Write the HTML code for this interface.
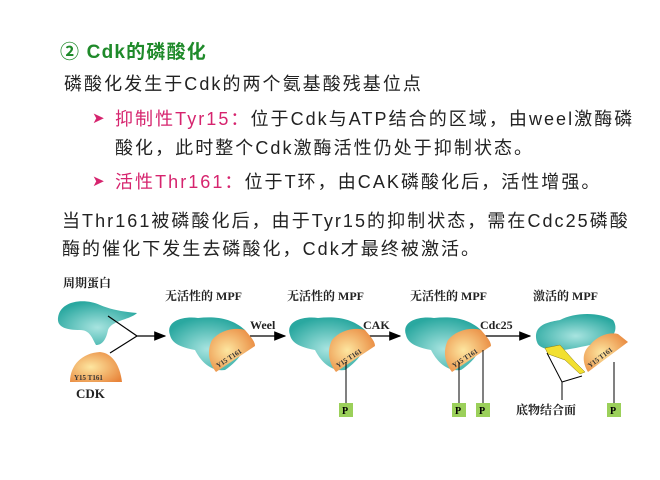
<!DOCTYPE html>
<html><head><meta charset="utf-8"><style>
body{margin:0;width:660px;height:480px;background:#fff;position:relative;overflow:hidden;font-family:"Liberation Sans","Noto Sans CJK SC",sans-serif;}
.t{position:absolute;white-space:nowrap;font-size:18px;color:#222;letter-spacing:2.05px;}
.g{color:#1f8a2a;font-weight:bold;}
.m{color:#d6246e;}
.ar{color:#d6246e;font-size:15px;}
svg{position:absolute;left:0;top:0}
</style></head><body>
<div class="t g" style="left:60px;top:37px;font-size:19px;letter-spacing:1.2px">② Cdk的磷酸化</div>
<div class="t" style="left:64px;top:70px;">磷酸化发生于Cdk的两个氨基酸残基位点</div>
<div class="t ar" style="left:92px;top:109px;">➤</div>
<div class="t" style="left:115px;top:105px;"><span class="m">抑制性Tyr15：</span>位于Cdk与ATP结合的区域，由weel激酶磷</div>
<div class="t" style="left:115px;top:134px;">酸化，此时整个Cdk激酶活性仍处于抑制状态。</div>
<div class="t ar" style="left:92px;top:172px;">➤</div>
<div class="t" style="left:115px;top:168px;"><span class="m">活性Thr161：</span>位于T环，由CAK磷酸化后，活性增强。</div>
<div class="t" style="left:62px;top:207px;">当Thr161被磷酸化后，由于Tyr15的抑制状态，需在Cdc25磷酸</div>
<div class="t" style="left:62px;top:235px;">酶的催化下发生去磷酸化，Cdk才最终被激活。</div>
<svg width="660" height="480" viewBox="0 0 660 480" font-family="'Liberation Serif','Noto Serif CJK SC',serif" font-weight="bold">
<defs>
<radialGradient id="tl" cx="0.5" cy="0.6" r="0.6"><stop offset="0" stop-color="#a8e4e0"/><stop offset="1" stop-color="#2aa8a0"/></radialGradient>
<radialGradient id="or" cx="0.4" cy="0.5" r="0.7"><stop offset="0" stop-color="#fde6a0"/><stop offset="1" stop-color="#e8843a"/></radialGradient>
<marker id="a" markerWidth="10" markerHeight="8" refX="9" refY="4" orient="auto"><path d="M0,0 L10,4 L0,8 Z" fill="#000"/></marker>
</defs>
<g font-size="12" fill="#222">
<text x="63" y="287">周期蛋白</text>
<text x="165" y="300">无活性的 MPF</text>
<text x="287" y="300">无活性的 MPF</text>
<text x="410" y="300">无活性的 MPF</text>
<text x="533" y="300">激活的 MPF</text>
<text x="76" y="398" font-size="13">CDK</text>
<text x="250" y="329" font-size="12">Weel</text>
<text x="363" y="329" font-size="12">CAK</text>
<text x="480" y="329" font-size="12">Cdc25</text>
<text x="516" y="414">底物结合面</text>
</g>
<path d="M58,318 C60,300 85,298 100,305 C112,310 125,312 137,313 C130,320 112,320 108,330 C106,340 102,345 96,345 C92,338 90,330 80,330 C66,330 57,327 58,318 Z" fill="url(#tl)"/>
<path d="M70,382 C70,365 82,353 100,352 C112,353 120,365 122,382 Z" fill="url(#or)"/>
<text x="74" y="380" font-size="7" fill="#333">Y15 T161</text>
<path d="M108,316 L137,336 L110,353 M137,336 L165,336" stroke="#000" stroke-width="1.2" fill="none" marker-end="url(#a)"/>
<path d="M250,336 L285,336" stroke="#000" stroke-width="1.2" marker-end="url(#a)"/>
<path d="M360,336 L400,336" stroke="#000" stroke-width="1.2" marker-end="url(#a)"/>
<path d="M480,336 L530,336" stroke="#000" stroke-width="1.2" marker-end="url(#a)"/>
<g>
<path d="M170,335 C165,320 185,316 198,318 C215,316 232,318 245,330 C250,345 240,360 225,370 C210,372 200,360 195,350 C185,348 172,345 170,335 Z" fill="url(#tl)"/>
<path d="M212,340 C220,330 235,327 245,330 C252,338 255,342 255,346 L216,372 C208,362 207,350 212,340 Z" fill="url(#or)"/>
<text x="218" y="368" font-size="7" fill="#333" transform="rotate(-33 218 368)">Y15 T161</text>
</g>
<g transform="translate(120,0)">
<path d="M170,335 C165,320 185,316 198,318 C215,316 232,318 245,330 C250,345 240,360 225,370 C210,372 200,360 195,350 C185,348 172,345 170,335 Z" fill="url(#tl)"/>
<path d="M212,340 C220,330 235,327 245,330 C252,338 255,342 255,346 L216,372 C208,362 207,350 212,340 Z" fill="url(#or)"/>
<text x="218" y="368" font-size="7" fill="#333" transform="rotate(-33 218 368)">Y15 T161</text>
</g>
<line x1="346" y1="362" x2="346" y2="404" stroke="#000"/>
<rect x="339" y="403" width="14" height="14" fill="#9bd05a"/><text x="342" y="414" font-size="10">P</text>
<g transform="translate(236,0)">
<path d="M170,335 C165,320 185,316 198,318 C215,316 232,318 245,330 C250,345 240,360 225,370 C210,372 200,360 195,350 C185,348 172,345 170,335 Z" fill="url(#tl)"/>
<path d="M212,340 C220,330 235,327 245,330 C252,338 255,342 255,346 L216,372 C208,362 207,350 212,340 Z" fill="url(#or)"/>
<text x="218" y="368" font-size="7" fill="#333" transform="rotate(-33 218 368)">Y15 T161</text>
</g>
<line x1="459" y1="362" x2="459" y2="404" stroke="#000"/><line x1="483" y1="350" x2="483" y2="404" stroke="#000"/>
<rect x="452" y="403" width="14" height="14" fill="#9bd05a"/><text x="455" y="414" font-size="10">P</text>
<rect x="476" y="403" width="14" height="14" fill="#9bd05a"/><text x="479" y="414" font-size="10">P</text>
<path d="M537,342 C532,325 548,322 560,320 C575,312 600,312 613,320 C620,330 612,345 590,345 C575,348 560,352 550,350 C542,348 538,346 537,342 Z" fill="url(#tl)"/>
<path d="M590,345 C598,335 610,332 618,334 L628,342 L588,372 C582,362 582,352 590,345 Z" fill="url(#or)"/>
<text x="590" y="368" font-size="7" fill="#333" transform="rotate(-37 590 368)">Y15 T161</text>
<path d="M545,348 L560,345 L575,362 L585,372 L580,374 L565,360 L548,354 Z" fill="#f2e030" stroke="#8a7a10" stroke-width="0.5"/>
<path d="M547,353 L562,382 L582,376 M562,382 L562,400" stroke="#000" fill="none"/>
<line x1="614" y1="362" x2="614" y2="404" stroke="#000"/>
<rect x="607" y="403" width="14" height="14" fill="#9bd05a"/><text x="610" y="414" font-size="10">P</text>
</svg>
</body></html>
